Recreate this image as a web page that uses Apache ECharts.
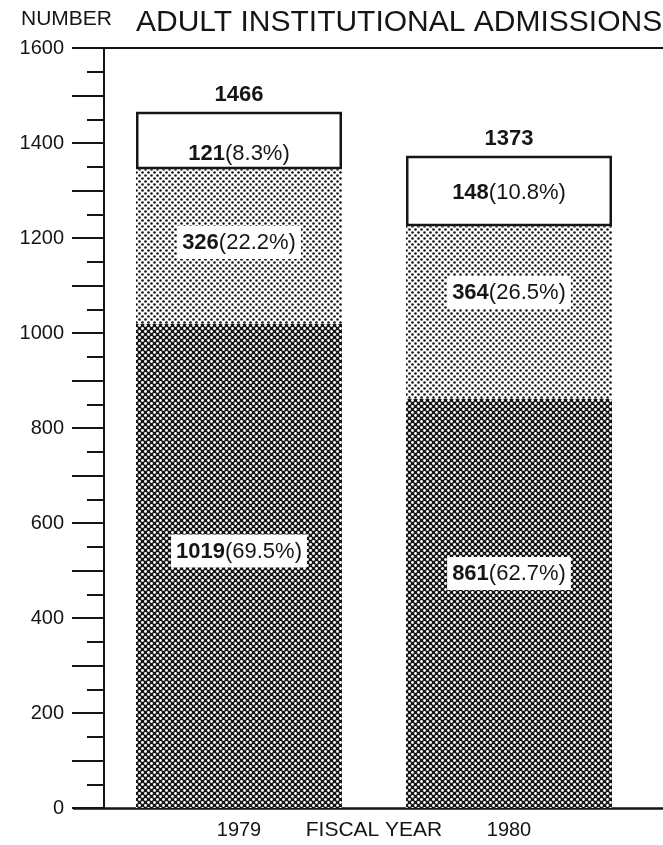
<!DOCTYPE html>
<html>
<head>
<meta charset="utf-8">
<script src="https://cdn.jsdelivr.net/npm/echarts@6/dist/echarts.min.js"></script>
<style>
    html, body { margin: 0; padding: 0; background: #fff; }
    #chart { width: 663px; height: 845px; }
</style>
</head>
<body>
<div id="chart"></div>
<script>
// data
const years = ['1979', '1980'];
const bottomVals = [1019, 861];
const bottomPct = [69.5, 62.7];
const middleVals = [326, 364];
const middlePct = [22.2, 26.5];
const topVals = [121, 148];
const topPct = [8.3, 10.8];
const totals = [1466, 1373];

const ink = '#151515';
const font = '"Liberation Sans", Arial, sans-serif';

// dot screen tiles for the shaded segments
const makeDots = (bg, dot, r) => {
    const c = document.createElement('canvas');
    c.width = 6;
    c.height = 6;
    const ctx = c.getContext('2d');
    ctx.fillStyle = bg;
    ctx.fillRect(0, 0, 6, 6);
    ctx.fillStyle = dot;
    [[1.5, 1.5], [4.5, 4.5]].forEach(p => {
        ctx.beginPath();
        ctx.arc(p[0], p[1], r, 0, Math.PI * 2);
        ctx.fill();
    });
    return { image: c, repeat: 'repeat' };
};
const darkDots = makeDots(ink, '#fff', 1.4);
const lightDots = makeDots('#fff', ink, 1.3);

const labelRich = {
    b: { fontFamily: font, fontSize: 22, fontWeight: 'bold', color: ink, lineHeight: 26 },
    n: { fontFamily: font, fontSize: 22, color: ink, lineHeight: 26 }
};
const segLabel = (vals, pct) => (p) => '{b|' + vals[p.dataIndex] + '}{n|(' + pct[p.dataIndex] + '%)}';

// per bar label nudges (the printed labels are not exactly centred)
const bottomOffsets = [[0, -15], [0, -30]];
const middleOffsets = [[0, -4], [0, -20]];
const topOffsets = [[0, 14], [0, 2]];

const withOffsets = (vals, offsets) => vals.map((v, i) => ({ value: v, label: { offset: offsets[i] } }));

const myChart = echarts.init(document.getElementById('chart'));
const option = {
    backgroundColor: '#fff',
    animation: false,
    title: {
        text: 'ADULT INSTITUTIONAL ADMISSIONS',
        left: 131,
        top: 3,
        textStyle: { fontFamily: font, fontSize: 30, fontWeight: 'normal', color: ink }
    },
    grid: [
        { left: 104, top: 48, width: 540, height: 760, containLabel: false, outerBoundsMode: 'none' },
        { left: 74, right: 0, top: 48, height: 760, containLabel: false, outerBoundsMode: 'none' }   // frame lines
    ],
    xAxis: [
        {
            type: 'category',
            gridIndex: 0,
            data: years,
            name: 'FISCAL YEAR',
            nameLocation: 'middle',
            nameGap: 12,
            nameMoveOverlap: false,
            nameTextStyle: { fontFamily: font, fontSize: 21, color: ink, verticalAlign: 'top' },
            axisLine: { show: false },
            axisTick: { show: false },
            axisLabel: { margin: 12, fontFamily: font, fontSize: 20, color: ink }
        },
        {
            type: 'category',
            gridIndex: 1,
            data: [''],
            position: 'bottom',
            axisLine: { lineStyle: { color: ink, width: 2.5 } },
            axisTick: { show: false },
            axisLabel: { show: false }
        },
        {
            type: 'category',
            gridIndex: 1,
            data: [''],
            position: 'top',
            axisLine: { lineStyle: { color: ink, width: 2 } },
            axisTick: { show: false },
            axisLabel: { show: false }
        }
    ],
    yAxis: [
        {
            type: 'value',
            gridIndex: 0,
            min: 0,
            max: 1600,
            interval: 100,
            name: 'NUMBER',
            nameLocation: 'end',
            nameGap: 18,
            nameTextStyle: { fontFamily: font, fontSize: 21, color: ink, align: 'right', padding: [0, -8, 0, 0] },
            axisLine: { show: true, lineStyle: { color: ink, width: 2 } },
            axisTick: { show: true, length: 32, lineStyle: { color: ink, width: 2 } },
            minorTick: { show: true, splitNumber: 2, length: 17, lineStyle: { color: ink, width: 2 } },
            splitLine: { show: false },
            axisLabel: {
                margin: 40,
                fontFamily: font,
                fontSize: 20,
                color: ink,
                formatter: v => (v % 200 === 0 ? String(v) : '')
            }
        },
        { type: 'value', gridIndex: 1, min: 0, max: 1, show: false }
    ],
    series: [
        {
            name: 'bottom',
            type: 'bar',
            stack: 'adm',
            barWidth: 206,
            data: withOffsets(bottomVals, bottomOffsets),
            itemStyle: { color: darkDots },
            label: {
                show: true,
                position: 'inside',
                formatter: segLabel(bottomVals, bottomPct),
                rich: labelRich,
                backgroundColor: '#fff',
                padding: [4, 5, 3, 5]
            }
        },
        {
            name: 'middle',
            type: 'bar',
            stack: 'adm',
            data: withOffsets(middleVals, middleOffsets),
            itemStyle: { color: lightDots },
            label: {
                show: true,
                position: 'inside',
                formatter: segLabel(middleVals, middlePct),
                rich: labelRich,
                backgroundColor: '#fff',
                padding: [4, 5, 3, 5]
            }
        },
        {
            name: 'top',
            type: 'bar',
            stack: 'adm',
            data: withOffsets(topVals, topOffsets),
            itemStyle: { color: '#fff', borderColor: ink, borderWidth: 2.5 },
            label: {
                show: true,
                position: 'inside',
                formatter: segLabel(topVals, topPct),
                rich: labelRich
            }
        },
        {
            name: 'total',
            type: 'bar',
            stack: 'adm',
            data: totals.map(() => 0),
            itemStyle: { color: 'transparent' },
            label: {
                show: true,
                position: 'top',
                distance: 6,
                formatter: p => String(totals[p.dataIndex]),
                fontFamily: font,
                fontSize: 22,
                fontWeight: 'bold',
                color: ink
            }
        }
    ]
};
myChart.setOption(option);
</script>
</body>
</html>
